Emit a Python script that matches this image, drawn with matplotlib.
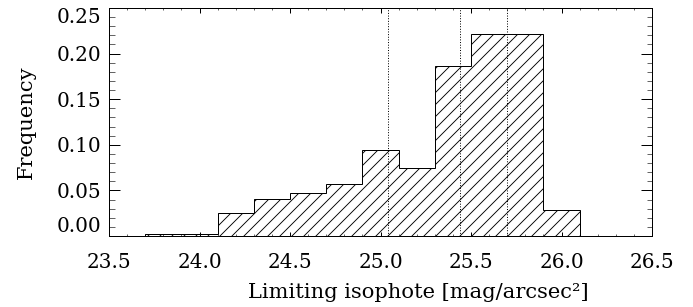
"""
Histogram of limiting isophotes.
"""

from __future__ import annotations

import matplotlib

matplotlib.use("Agg")

import matplotlib.pyplot as plt
import numpy as np
from matplotlib.ticker import MultipleLocator

# ============================================================
# Data
# ============================================================

BIN_EDGES = [
    23.7, 23.9, 24.1, 24.3, 24.5, 24.7, 24.9,
    25.1, 25.3, 25.5, 25.7, 25.9, 26.1,
]

FREQUENCY = [
    0.0025, 0.0025, 0.025, 0.0405, 0.0475, 0.0565,
    0.094, 0.075, 0.186, 0.221, 0.221, 0.028,
]

MARKERS = [25.04, 25.44, 25.70]

X_TICKS = [23.5, 24.0, 24.5, 25.0, 25.5, 26.0, 26.5]
Y_TICKS = [0.00, 0.05, 0.10, 0.15, 0.20, 0.25]

DPI = 72


def plot_histogram() -> None:
    """
    Draw the hatched step histogram.
    """

    plt.rcParams["font.family"] = ["DejaVu Serif"]
    plt.rcParams["hatch.linewidth"] = 0.9

    fig = plt.figure(figsize=(693 / DPI, 307 / DPI), dpi=DPI)
    ax = fig.add_axes([109 / 693, 71 / 307, 543 / 693, 228 / 307])

    ax.stairs(
        np.array(FREQUENCY),
        np.array(BIN_EDGES),
        baseline=0,
        fill=True,
        facecolor="none",
        edgecolor="black",
        hatch="//",
        linewidth=1.0,
    )

    for x in MARKERS:
        ax.axvline(x, color="black", linestyle=":", linewidth=1.0)

    ax.set_xlim(23.5, 26.5)
    ax.set_ylim(0.0, 0.25)

    # ============================================================
    # Axes and ticks
    # ============================================================

    ax.set_xticks(X_TICKS)
    ax.set_xticklabels([f"{v:.1f}" for v in X_TICKS])
    ax.set_yticks(Y_TICKS)
    ax.set_yticklabels([f"{v:.2f}" for v in Y_TICKS])
    ax.xaxis.set_minor_locator(MultipleLocator(0.1))
    ax.yaxis.set_minor_locator(MultipleLocator(0.01))

    ax.tick_params(
        axis="x",
        which="major",
        direction="in",
        top=True,
        length=4.5,
        width=1,
        pad=17,
        labelsize=20,
    )
    ax.tick_params(axis="x", which="minor", direction="in", top=True, length=2.3)
    ax.tick_params(
        axis="y",
        which="major",
        direction="in",
        right=True,
        length=11,
        width=1,
        pad=8,
        labelsize=20,
    )
    ax.tick_params(axis="y", which="minor", direction="in", right=True, length=5.5)

    labels = ax.get_yticklabels()
    labels[0].set_va("bottom")
    labels[-1].set_va("top")

    for spine in ax.spines.values():
        spine.set_linewidth(1.0)

    ax.set_xlabel("Limiting isophote [mag/arcsec²]", fontsize=21)
    ax.xaxis.set_label_coords(0.57, -0.205)
    ax.set_ylabel("Frequency", fontsize=21)
    ax.yaxis.set_label_coords(-0.135, 0.5)

    fig.savefig("out.png", dpi=DPI)


if __name__ == "__main__":
    plot_histogram()
